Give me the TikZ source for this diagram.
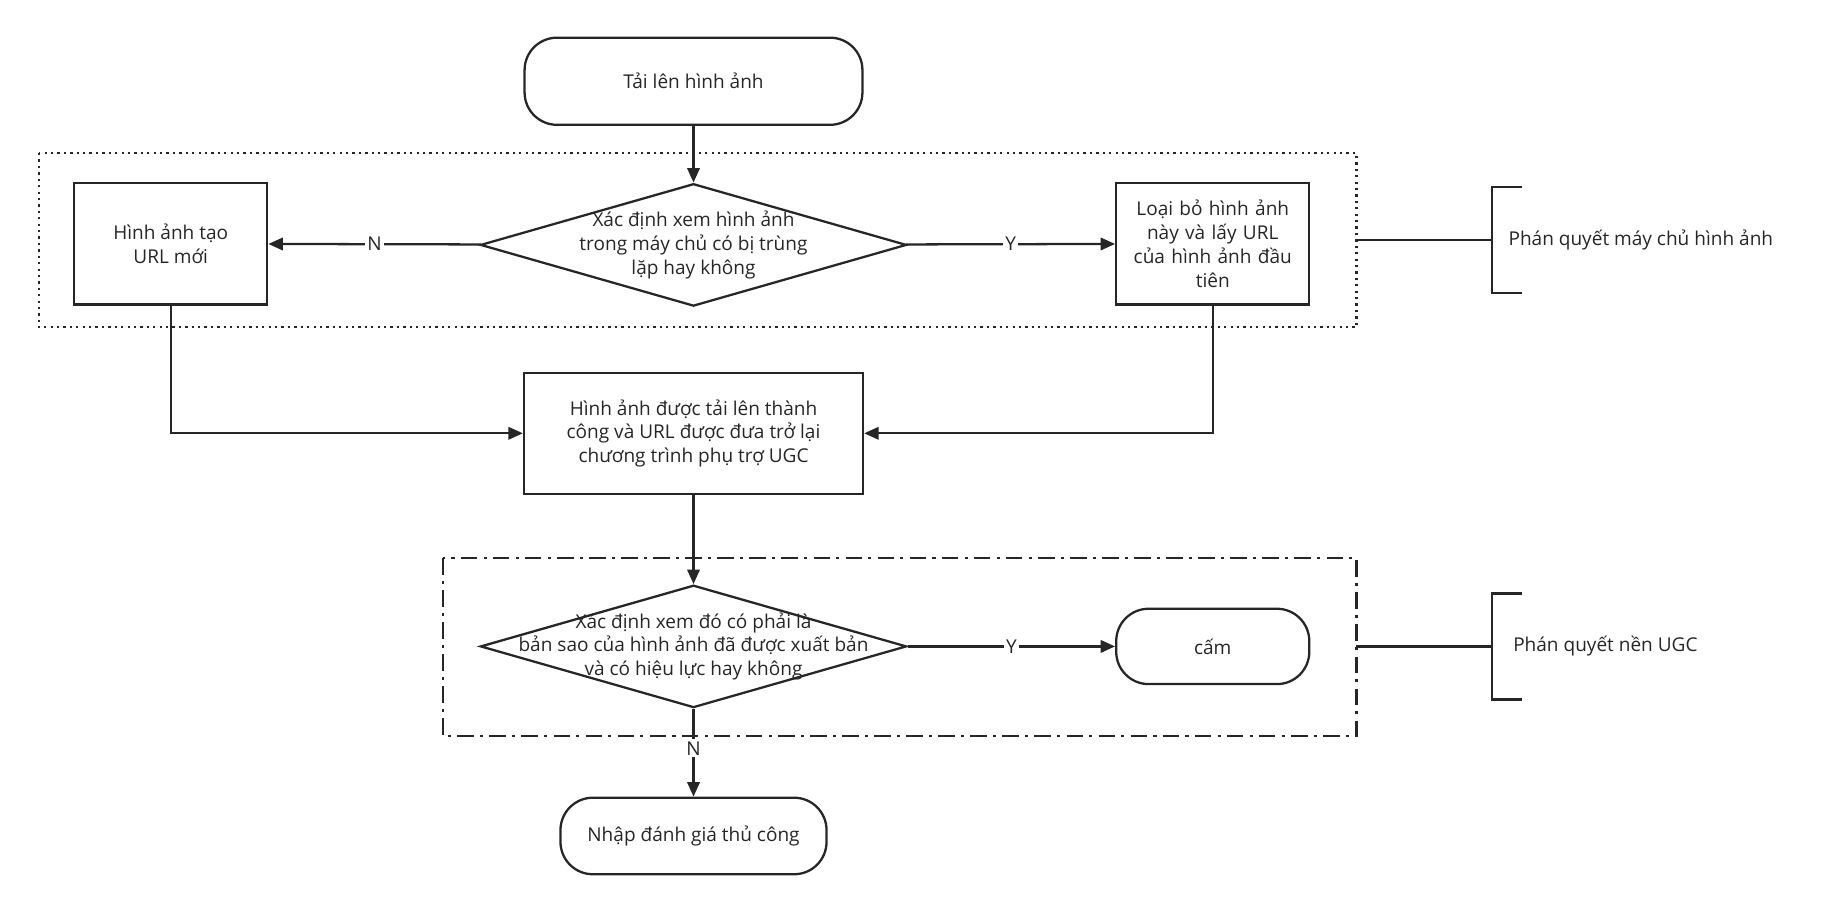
\documentclass[tikz,border=0pt]{standalone}
\usepackage{fontspec}
\setmainfont{Open Sans}
\usetikzlibrary{shapes.geometric,arrows.meta}
\tikzset{
  every node/.style={font=\fontsize{9.2}{11.5}\selectfont, text=black!85},
  flow/.style={draw=black!85, line width=1.1pt},
  proc/.style={flow, rectangle, align=center, inner sep=2pt},
  term/.style={flow, rectangle, rounded corners=0.55cm, align=center},
  decide/.style={flow, diamond, minimum width=7.24cm, minimum height=2.08cm, inner sep=0pt},
  link/.style={draw=black!85, line width=1.1pt, -{Triangle[length=7pt,width=6pt]}},
  tag/.style={fill=white, inner sep=1pt}
}
\begin{document}
\begin{tikzpicture}[x=0.02cm, y=-0.02cm]
\useasboundingbox (0,0) rectangle (1550,765);

% Group frames
\draw[line width=1.1pt, dotted, black!85] (33,130) rectangle (1152,278);
\draw[line width=1.1pt, dash pattern=on 8pt off 3pt on 1.5pt off 3pt, black!85] (376,474) rectangle (1152,625);

% Nodes
\node[term, minimum width=5.74cm, minimum height=1.48cm] (upload) at (589,69) {Tải lên hình ảnh};
\node[decide] (dup) at (589,208) {};
\node[align=center] (dupText) at (dup) {Xác định xem hình ảnh\\trong máy chủ có bị trùng\\lặp hay không};
\node[proc, minimum width=3.28cm, minimum height=2.06cm] (newurl) at (145,207) {Hình ảnh tạo\\URL mới};
\node[proc, minimum width=3.28cm, minimum height=2.06cm, text width=3cm] (drop) at (1030,207)
  {Loại bỏ hình ảnh\\này và lấy URL\\của hình ảnh đầu\\tiên};
\node[proc, minimum width=5.76cm, minimum height=2.06cm] (done) at (589,368)
  {Hình ảnh được tải lên thành\\công và URL được đưa trở lại\\chương trình phụ trợ UGC};
\node[decide] (copy) at (589,549) {};
\node[align=center] (copyText) at (copy) {Xác định xem đó có phải là\\bản sao của hình ảnh đã được xuất bản\\và có hiệu lực hay không};
\node[term, minimum width=3.28cm, minimum height=1.28cm] (ban) at (1030,549) {cấm};
\node[term, minimum width=4.52cm, minimum height=1.3cm] (manual) at (589,710) {Nhập đánh giá thủ công};

% Connectors
\draw[link] (upload) -- (dup);
\draw[link] (dup) -- node[tag] {N} (newurl);
\draw[link] (dup) -- node[tag] {Y} (drop);
\draw[link] (newurl.south) |- (done.west);
\draw[link] (drop.south) |- (done.east);
\draw[link] (done) -- (copy);
\draw[link] (copy) -- node[tag] {Y} (ban);
\draw[link] (copy) -- node[tag, pos=0.45] {N} (manual);

% Side brackets
\coordinate (b1) at (1267,204);
\coordinate (b2) at (1267,549);
\draw[flow] (1152,204) -- (b1);
\draw[flow] (1293,159) -- (1267,159) -- (1267,249) -- (1293,249);
\node[anchor=west] (lab1) at (1275,204) {Phán quyết máy chủ hình ảnh};
\draw[flow] (1152,549) -- (b2);
\draw[flow] (1293,504) -- (1267,504) -- (1267,594) -- (1293,594);
\node[anchor=west] (lab2) at (1279,549) {Phán quyết nền UGC};
\end{tikzpicture}
\end{document}
